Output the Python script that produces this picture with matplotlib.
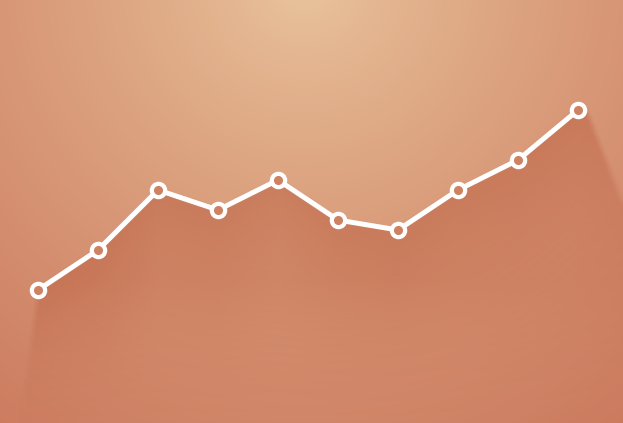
#!/usr/bin/env python3
"""Decorative trend line over a warm radial backdrop with a soft drop-shadow fill."""
import numpy as np
import matplotlib
matplotlib.use("Agg")
import matplotlib.pyplot as plt

# data
points = list(range(10))
values = [30, 40, 55, 50, 57.5, 47.5, 45, 55, 62.5, 75]

X_LIM = (-0.633, 9.75)
Y_LIM = (-3.25, 102.5)
W, H = 623, 423

BG_CENTER = np.array([234, 198, 158]) / 255.0
BG_EDGE = np.array([204, 122, 94]) / 255.0
SHADOW_RGB = np.array([190, 100, 70]) / 255.0


def box_blur(img, r):
    k = np.ones(2 * r + 1) / (2 * r + 1)
    pad = np.pad(img, r, mode="edge")
    out = np.apply_along_axis(lambda m: np.convolve(m, k, mode="valid"), 1, pad)
    out = np.apply_along_axis(lambda m: np.convolve(m, k, mode="valid"), 0, out)
    return out


def main():
    fig = plt.figure(figsize=(W / 100, H / 100), dpi=100)
    ax = fig.add_axes([0, 0, 1, 1])
    ax.set_xlim(*X_LIM)
    ax.set_ylim(*Y_LIM)
    ax.axis("off")

    gx = np.linspace(X_LIM[0], X_LIM[1], W)
    gy = np.linspace(Y_LIM[1], Y_LIM[0], H)  # top row first
    XX, YY = np.meshgrid(gx, gy)

    # radial background, measured in pixels from a point above the top centre
    px = (XX - X_LIM[0]) / (X_LIM[1] - X_LIM[0]) * W
    py = (Y_LIM[1] - YY) / (Y_LIM[1] - Y_LIM[0]) * H
    d = np.hypot(px - 305, py + 20)
    t = np.clip(d / 560, 0, 1) ** 0.8
    bg = BG_CENTER[None, None, :] * (1 - t[..., None]) + BG_EDGE[None, None, :] * t[..., None]
    ax.imshow(bg, extent=(*X_LIM, *Y_LIM), origin="upper", aspect="auto",
              interpolation="bilinear", zorder=0)

    # shadow under the line, spreading out past both ends
    xs = np.array(points, dtype=float)
    vs = np.array(values, dtype=float)
    top = np.interp(XX, xs, vs)
    below = YY < top
    left_ok = XX > xs[0] - 0.009 * (vs[0] - YY)
    right_ok = XX < xs[-1] + 0.15 + 0.026 * (vs[-1] - YY)
    mask = (below & left_ok & right_ok).astype(float)
    mask = box_blur(mask, 3)
    depth = np.clip(top - YY, 0, None) * 4  # pixels below the line
    alpha = 0.6 * np.exp(-depth / 180) * np.clip((440 - py) / 160, 0, 1)
    shade = np.zeros((H, W, 4))
    shade[..., :3] = SHADOW_RGB
    shade[..., 3] = mask * alpha
    ax.imshow(shade, extent=(*X_LIM, *Y_LIM), origin="upper", aspect="auto",
              interpolation="bilinear", zorder=1)

    ax.plot(points, values, color="white", lw=3.6, marker="o", ms=9.6,
            mew=3.0, mec="white", mfc="#CF8262", zorder=3,
            solid_capstyle="round", solid_joinstyle="round")

    fig.savefig("out.png", dpi=100)
    plt.close(fig)


if __name__ == "__main__":
    main()
